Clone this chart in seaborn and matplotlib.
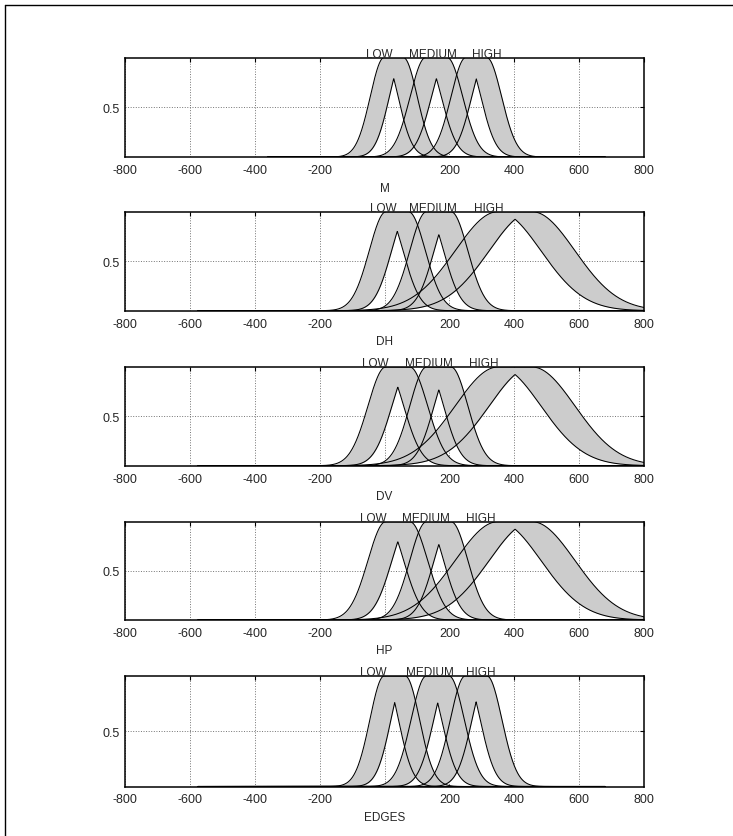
import numpy as np
import pandas as pd
import matplotlib
matplotlib.use("Agg")
import matplotlib.pyplot as plt
import seaborn as sns
from matplotlib.lines import Line2D

variables = ["M", "DH", "DV", "HP", "EDGES"]
terms = ["LOW", "MEDIUM", "HIGH"]

# interval type-2 gaussian MFs: [mean1, mean2, sigma] for LOW, MEDIUM, HIGH
m_params = [[-1, 58, 43], [127, 193, 48], [251, 315, 46]]
dh_params = [[5, 74, 52], [130, 205, 52], [350, 455, 132]]
dv_params = [[4, 78, 55], [130, 205, 52], [350, 455, 132]]
hp_params = [[4, 78, 55], [130, 205, 52], [350, 455, 132]]
edges_params = [[-1, 64, 44], [129, 199, 47], [249, 316, 46]]
all_params = [m_params, dh_params, dv_params, hp_params, edges_params]

# range of each input variable
universe = [(-360, 680), (-575, 800), (-575, 800), (-575, 800), (-575, 680)]

# where the term names sit above each axes (x in data units)
label_x = [[-15, 149, 315], [-5, 149, 321], [-29, 136, 305],
           [-35, 128, 296], [-36, 141, 297]]

# axes boxes in pixels (top, bottom)
boxes = [(58.5, 158), (212.7, 311.7), (368, 466.7), (522.7, 621), (677, 787.5)]
W, H = 733, 837


def mf_bounds(x, m1, m2, s):
    g1 = np.exp(-(x - m1) ** 2 / (2 * s ** 2))
    g2 = np.exp(-(x - m2) ** 2 / (2 * s ** 2))
    upper = np.where(x < m1, g1, np.where(x > m2, g2, 1.0))
    lower = np.minimum(g1, g2)
    return upper, lower


sns.set_theme(style="white")
plt.rcParams["font.family"] = ["Liberation Sans", "DejaVu Sans"]

fig = plt.figure(figsize=(W / 100, H / 100), dpi=100)

for k, var in enumerate(variables):
    top, bot = boxes[k]
    ax = fig.add_axes([125 / W, 1 - bot / H, 519 / W, (bot - top) / H])
    x = np.linspace(universe[k][0], universe[k][1], 1400)

    frames = []
    for term, (m1, m2, s) in zip(terms, all_params[k]):
        up, lo = mf_bounds(x, m1, m2, s)
        ax.fill_between(x, lo, up, color="0.8", lw=0, zorder=2)
        frames.append(pd.DataFrame({"x": x, "upper": up, "lower": lo, "term": term}))
    df = pd.concat(frames, ignore_index=True)

    for col in ["upper", "lower"]:
        sns.lineplot(data=df, x="x", y=col, units="term", estimator=None,
                     sort=False, color="black", lw=0.75, ax=ax, zorder=3)

    for term, lx in zip(terms, label_x[k]):
        ax.text(lx, 1.01, term, ha="center", va="baseline", fontsize=8.5,
                clip_on=False)

    ax.set_xlim(-800, 800)
    ax.set_ylim(0, 1)
    xt = list(range(-800, 801, 200))
    ax.set_xticks(xt)
    ax.set_xticklabels(["" if v == 0 else str(v) for v in xt])
    ax.set_yticks([0.5])
    ax.set_yticklabels(["0.5"])
    ax.grid(True, linestyle=":", color="0.45", lw=0.7)
    ax.set_axisbelow(True)
    ax.tick_params(direction="in", top=True, right=True, length=3, width=0.8,
                   color="black", labelsize=9, pad=5)
    ax.tick_params(axis="y", pad=4)
    for sp in ax.spines.values():
        sp.set_color("black")
        sp.set_linewidth(1.1)
    ax.set_xlabel(var, fontsize=8.5, labelpad=4)
    ax.set_ylabel("")

# outer frame (left and top edges only)
fig.add_artist(Line2D([4.5 / W, 4.5 / W], [0, 1 - 5.5 / H],
                      transform=fig.transFigure, color="black", lw=1.0))
fig.add_artist(Line2D([4.5 / W, 1], [1 - 5.5 / H, 1 - 5.5 / H],
                      transform=fig.transFigure, color="black", lw=1.0))

fig.savefig("out.png", dpi=100, facecolor="white")
